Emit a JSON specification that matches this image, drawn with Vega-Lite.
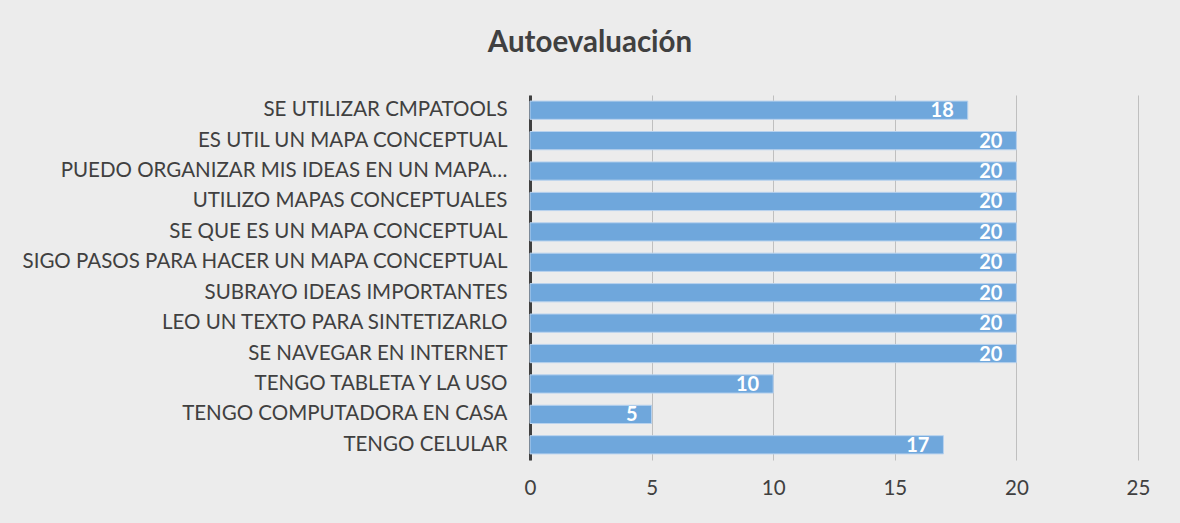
{
  "$schema": "https://vega.github.io/schema/vega-lite/v6.json",
  "width": 608,
  "height": 365,
  "autosize": {"type": "none"},
  "padding": {"left": 530, "top": 95, "right": 42, "bottom": 63},
  "background": "#ececec",
  "title": {
    "text": "Autoevaluación",
    "font": "Lato",
    "fontSize": 29.5,
    "fontWeight": "bold",
    "color": "#404040",
    "anchor": "middle",
    "dx": -244,
    "offset": 37
  },
  "data": {
    "values": [
      {"item": "SE UTILIZAR CMPATOOLS", "valor": 18},
      {"item": "ES UTIL UN MAPA CONCEPTUAL", "valor": 20},
      {"item": "PUEDO ORGANIZAR MIS IDEAS EN UN MAPA…", "valor": 20},
      {"item": "UTILIZO MAPAS CONCEPTUALES", "valor": 20},
      {"item": "SE QUE ES UN MAPA CONCEPTUAL", "valor": 20},
      {"item": "SIGO PASOS PARA HACER UN MAPA CONCEPTUAL", "valor": 20},
      {"item": "SUBRAYO IDEAS IMPORTANTES", "valor": 20},
      {"item": "LEO UN TEXTO PARA SINTETIZARLO", "valor": 20},
      {"item": "SE NAVEGAR EN INTERNET", "valor": 20},
      {"item": "TENGO TABLETA Y LA USO", "valor": 10},
      {"item": "TENGO COMPUTADORA EN CASA", "valor": 5},
      {"item": "TENGO CELULAR", "valor": 17}
    ]
  },
  "config": {"view": {"stroke": null}},
  "encoding": {
    "y": {
      "field": "item",
      "type": "nominal",
      "sort": null,
      "title": null,
      "scale": {"paddingInner": 0.4, "paddingOuter": 0.2},
      "axis": {
        "domainColor": "#404040",
        "domainWidth": 3,
        "ticks": false,
        "labelFont": "Lato",
        "labelFontSize": 20.5,
        "labelColor": "#404040",
        "labelPadding": 23,
        "labelLimit": 700
      }
    },
    "x": {
      "field": "valor",
      "type": "quantitative",
      "title": null,
      "scale": {"domain": [0, 25]},
      "axis": {
        "values": [0, 5, 10, 15, 20, 25],
        "domain": false,
        "ticks": false,
        "grid": true,
        "gridColor": "#bfbfbf",
        "gridWidth": 1,
        "labelFlush": false,
        "labelFont": "Lato",
        "labelFontSize": 20.5,
        "labelColor": "#404040",
        "labelPadding": 18
      }
    }
  },
  "layer": [
    {
      "mark": {"type": "bar", "color": "#6fa7dc", "stroke": "#b8d2ee", "strokeWidth": 1}
    },
    {
      "mark": {"type": "text", "align": "right", "baseline": "middle", "dx": -14, "dy": 1, "font": "Lato", "fontSize": 20, "fontWeight": "bold", "color": "white"},
      "encoding": {"text": {"field": "valor", "type": "quantitative"}}
    }
  ]
}
